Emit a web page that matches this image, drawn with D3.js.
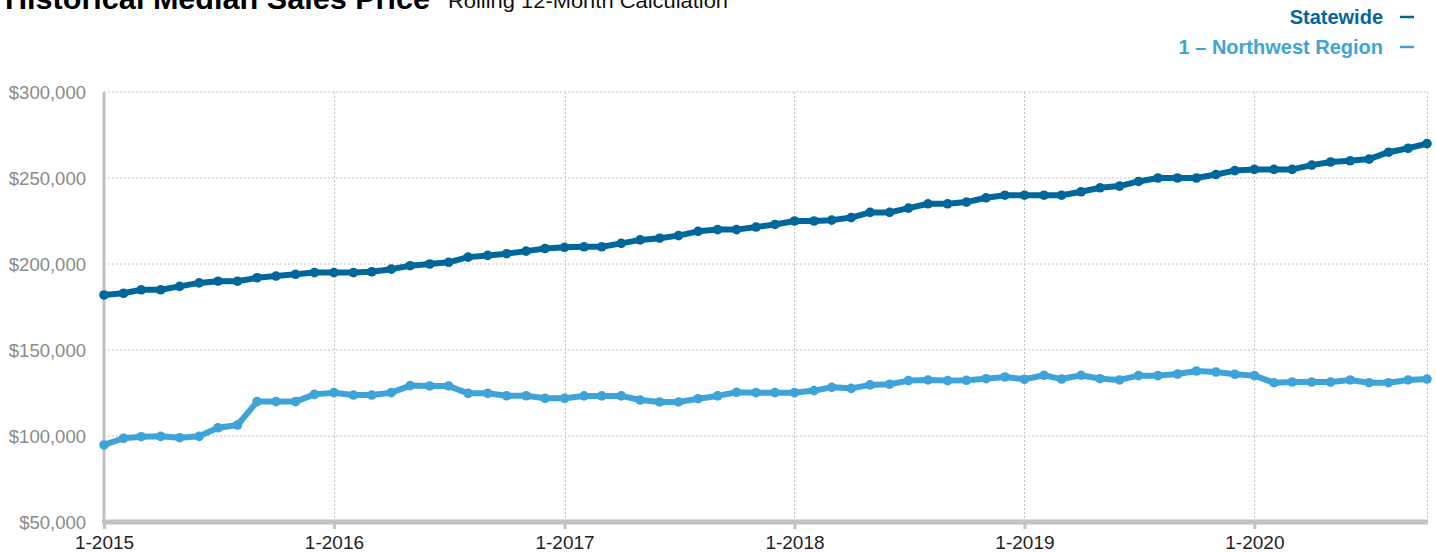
<!DOCTYPE html>
<html><head><meta charset="utf-8">
<script src="https://cdn.jsdelivr.net/npm/d3@7"></script>
<style>body{margin:0;background:#fff;}svg{display:block;font-family:"Liberation Sans",Arial,sans-serif;}</style>
</head><body>
<svg id="c" width="1436" height="552"></svg>
<script>
const startYear = 2015, startMonth = 0;
const yTicks = [50000,100000,150000,200000,250000,300000];
const xTickLabels = ["1-2015","1-2016","1-2017","1-2018","1-2019","1-2020"];
const seriesNames = ["Statewide","1 – Northwest Region"];
const seriesColors = ["#00679b","#3ea4d8"];
const statewide = [182000,183000,185000,185000,187000,189000,190000,190000,192000,193000,194000,195000,
195000,195000,195500,197000,199000,200000,201000,204000,205000,206000,207500,209000,
209700,210000,210000,212000,214000,215000,216500,219000,220000,220000,221500,223000,
225000,225000,225500,227000,230000,230000,232500,235000,235000,236000,238500,240000,
240000,240000,240000,242000,244300,245300,248000,250000,250000,250000,252000,254300,
255000,255000,255000,257500,259300,260000,261000,265000,267300,270000];
const northwest = [94800,98700,99600,99800,99000,99800,104800,106400,120000,120000,120000,124200,
125200,123800,123800,125200,129300,129100,129100,124800,124800,123400,123400,121900,
121900,123300,123300,123300,120900,119800,119800,121700,123300,125400,125200,125200,
125200,126400,128300,127700,129700,130100,132200,132600,132200,132400,133300,134300,
133000,135300,133100,135300,133300,132600,135100,135100,136000,137800,137200,135900,
135100,131000,131400,131400,131400,132600,131000,131000,132600,133100];

const dates = statewide.map((d,i)=>new Date(startYear, startMonth+i, 1));
const svg = d3.select("#c");
const L=104, R=1427, T=92, B=522;
const x = d3.scaleTime().domain([dates[0], dates[dates.length-1]]).range([L,R]);
const y = d3.scaleLinear().domain([50000,300000]).range([B,T]);
const yearDates = xTickLabels.map(s=>{const p=s.split("-");return new Date(+p[1], +p[0]-1, 1);});

// grid
const g = svg.append("g");
g.selectAll("line.h").data(yTicks.slice(1)).join("line")
 .attr("x1",L).attr("x2",R).attr("y1",d=>y(d)).attr("y2",d=>y(d))
 .attr("stroke","#c4c4c4").attr("stroke-width",1).attr("stroke-dasharray","2,2");
g.selectAll("line.v").data(yearDates.slice(1).concat([dates[dates.length-1]])).join("line")
 .attr("x1",d=>Math.round(x(d))+0.5).attr("x2",d=>Math.round(x(d))+0.5).attr("y1",T).attr("y2",B)
 .attr("stroke","#c4c4c4").attr("stroke-width",1).attr("stroke-dasharray","2,2");

// axes
const yAxis = d3.axisLeft(y).tickValues(yTicks).tickSize(0).tickPadding(18).tickFormat(d=>"$"+d3.format(",")(d));
const ya = svg.append("g").attr("transform",`translate(${L},0)`).call(yAxis);
ya.select(".domain").remove();
ya.selectAll("text").attr("fill","#8a8a8a").style("font-size","18.5px").attr("dy","0.33em");
svg.append("line").attr("x1",L).attr("x2",L).attr("y1",T).attr("y2",B+2).attr("stroke","#c2c2c2").attr("stroke-width",3);

const xAxis = d3.axisBottom(x).tickValues(yearDates).tickSize(7).tickPadding(7).tickFormat((d,i)=>xTickLabels[i]);
const xa = svg.append("g").attr("transform",`translate(0,${B})`).call(xAxis);
xa.select(".domain").remove();
xa.selectAll(".tick line").attr("stroke","#c2c2c2").attr("stroke-width",3);
xa.selectAll("text").attr("fill","#222").style("font-size","19px");
svg.append("line").attr("x1",L-2).attr("x2",R+1).attr("y1",B).attr("y2",B).attr("stroke","#c2c2c2").attr("stroke-width",5);

// series
const all = [statewide, northwest];
const line = d3.line().x((d,i)=>x(dates[i])).y(d=>y(d));
all.forEach((s,k)=>{
  svg.append("path").datum(s).attr("d",line).attr("fill","none")
    .attr("stroke",seriesColors[k]).attr("stroke-width",6).attr("stroke-linejoin","round");
  svg.append("g").selectAll("circle").data(s).join("circle")
    .attr("cx",(d,i)=>x(dates[i])).attr("cy",d=>y(d)).attr("r",4.8).attr("fill",seriesColors[k]);
});

// title
svg.append("text").attr("x",5).attr("y",9).text("Historical Median Sales Price")
 .attr("font-weight","bold").style("font-size","29px").attr("fill","#000")
 .attr("textLength",425).attr("lengthAdjust","spacingAndGlyphs");
svg.append("text").attr("x",448).attr("y",8).text("Rolling 12-Month Calculation")
 .style("font-size","21px").attr("fill","#111")
 .attr("textLength",280).attr("lengthAdjust","spacingAndGlyphs");

// legend
const lg = svg.append("g");
seriesNames.forEach((n,k)=>{
  const yy = 24 + k*30;
  lg.append("text").attr("x",1383).attr("y",yy).attr("text-anchor","end").text(n)
    .attr("font-weight","bold").style("font-size","20px").attr("fill",seriesColors[k]);
  lg.append("line").attr("x1",1400).attr("x2",1414).attr("y1",yy-7).attr("y2",yy-7)
    .attr("stroke",seriesColors[k]).attr("stroke-width",2.5);
});
</script>
</body></html>
